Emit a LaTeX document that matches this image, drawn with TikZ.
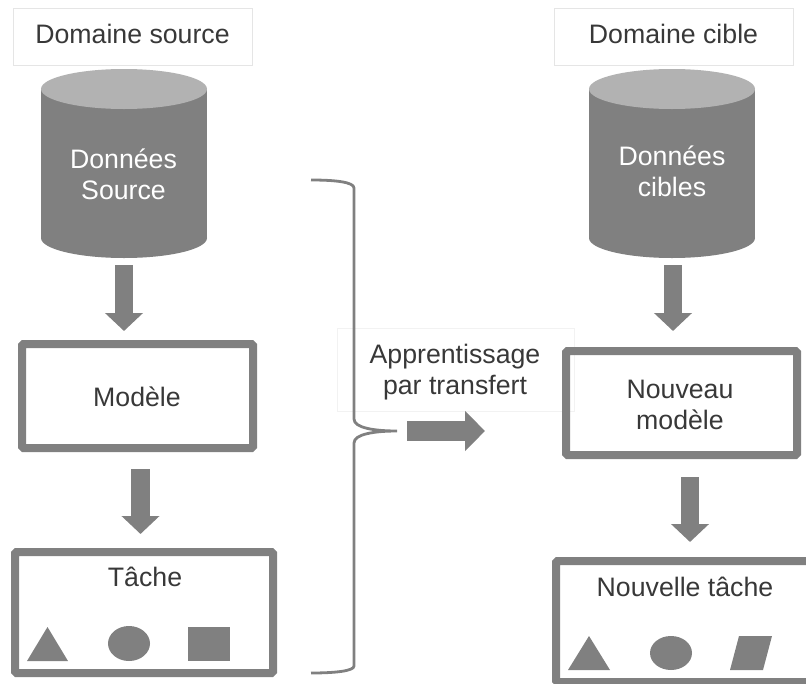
\documentclass[tikz,border=0pt]{standalone}
\usepackage{fontspec}
\setmainfont{Liberation Sans}
\definecolor{schemagray}{RGB}{128,128,128}
\definecolor{schematop}{RGB}{178,178,178}
\definecolor{schematext}{RGB}{56,56,56}
\usetikzlibrary{arrows.meta}
\usetikzlibrary{positioning}
\usetikzlibrary{shapes.geometric}
\tikzset{
  txt/.style={font=\fontsize{26.7}{31}\selectfont, text=schematext, align=center, inner sep=0pt},
  domainbox/.style={draw=black!10, line width=0.8pt, minimum width=239pt, minimum height=57pt, inner sep=0pt, txt},
  thickbox/.style={draw=schemagray, line width=8pt, rounded corners=1.5pt, inner sep=0pt, txt},
  cylbody/.style={rectangle, fill=schemagray, minimum width=166pt, minimum height=149pt, inner sep=0pt, outer sep=0pt},
  cylend/.style={ellipse, minimum width=166pt, minimum height=40pt, inner sep=0pt, outer sep=0pt},
  blockarrow/.style={draw=schemagray, line width=18.5pt, -{Triangle[length=18pt, width=37pt]}},
  shapefill/.style={fill=schemagray, draw=none, inner sep=0pt},
}

\begin{document}
\begin{tikzpicture}[x=1pt, y=-1pt]
  \useasboundingbox (0,0) rectangle (806,683);

  % transfer label box goes under everything
  \node [draw=black!5, line width=0.8pt, minimum width=237pt, minimum height=83pt, inner sep=0pt, txt] (transfer) at (455.5,369.5) {};

  % left column
  \node [domainbox] (srcdomain) at (132.5,36.5) {};
  \node [txt] (srcdomaintxt) at (132.5,34) {Domaine source};
  \node [cylend, fill=schemagray] (srcbottom) at (124,238) {};
  \node [cylbody] (srcdata) at (124,163.5) {};
  \node [cylend, fill=schematop] (srctop) at (124,89) {};
  \node [txt, text=white] (srcdatatxt) at (123.5,174) {Données\\Source};
  \node [thickbox, minimum width=231pt, minimum height=104pt] (model) at (137.5,396) {};
  \node [txt] (modeltxt) at (137,397) {Modèle};
  \node [thickbox, minimum width=258pt, minimum height=121pt] (task) at (144,612.5) {};
  \node [txt] (tasktxt) at (145,577) {Tâche};

  \fill [schemagray] (27,661) -- (47.5,627) -- (68,661) -- cycle;
  \node [shapefill, ellipse, minimum width=42pt, minimum height=35pt] (taskellipse) at (129,643.5) {};
  \node [shapefill, rectangle, minimum width=42pt, minimum height=34pt] (tasksquare) at (209,643.5) {};

  % right column
  \node [domainbox] (tgtdomain) at (673.5,36.5) {};
  \node [txt] (tgtdomaintxt) at (673.5,34) {Domaine cible};
  \node [cylend, fill=schemagray] (tgtbottom) at (672,238) {};
  \node [cylbody] (tgtdata) at (672,163.5) {};
  \node [cylend, fill=schematop] (tgttop) at (672,89) {};
  \node [txt, text=white] (tgtdatatxt) at (672,171) {Données\\cibles};
  \node [thickbox, minimum width=231pt, minimum height=104pt] (newmodel) at (681.5,403) {};
  \node [txt] (newmodeltxt) at (680,405) {Nouveau\\modèle};
  \node [thickbox, minimum width=258pt, minimum height=121pt] (newtask) at (685,621.5) {};
  \node [txt] (newtasktxt) at (685,587) {Nouvelle tâche};

  \fill [schemagray] (568,670) -- (589,636) -- (610,670) -- cycle;
  \node [shapefill, ellipse, minimum width=42pt, minimum height=34pt] (newtaskellipse) at (671,653) {};
  \fill [schemagray] (739,636) -- (772,636) -- (763,670) -- (730,670) -- cycle;

  % arrows
  \draw [blockarrow] ([yshift=-7pt]srcbottom.south) -- ([xshift=-13.5pt,yshift=9pt]model.north);
  \draw [blockarrow] ([xshift=3pt,yshift=-17pt]model.south) -- ([xshift=-3.5pt,yshift=14pt]task.north);
  \draw [blockarrow] ([xshift=1pt,yshift=-7pt]tgtbottom.south) -- ([xshift=-8.5pt,yshift=16pt]newmodel.north);
  \draw [blockarrow] ([xshift=8.5pt,yshift=-18pt]newmodel.south) -- ([xshift=5pt,yshift=15pt]newtask.north);

  % transfer
  \node [txt] (transfertxt) at (455,372) {Apprentissage\\par transfert};
  \coordinate (bracetop) at (311,180);
  \coordinate (bracetip) at (397,431);
  \coordinate (bracebottom) at (311,673);
  \draw [schemagray, line width=2.8pt]
    (bracetop) .. controls (335,180) and (354,182) .. (354,188) -- (354,419)
    .. controls (354,428) and (375,431) .. (bracetip)
    .. controls (375,431) and (354,434) .. (354,443) -- (354,666)
    .. controls (354,671) and (335,673) .. (bracebottom);
  \coordinate (transferstart) at (407,431);
  \coordinate (transferend) at (485,431);
  \draw [blockarrow, line width=20pt, -{Triangle[length=20pt, width=39pt]}] (transferstart) -- (transferend);
\end{tikzpicture}
\end{document}
